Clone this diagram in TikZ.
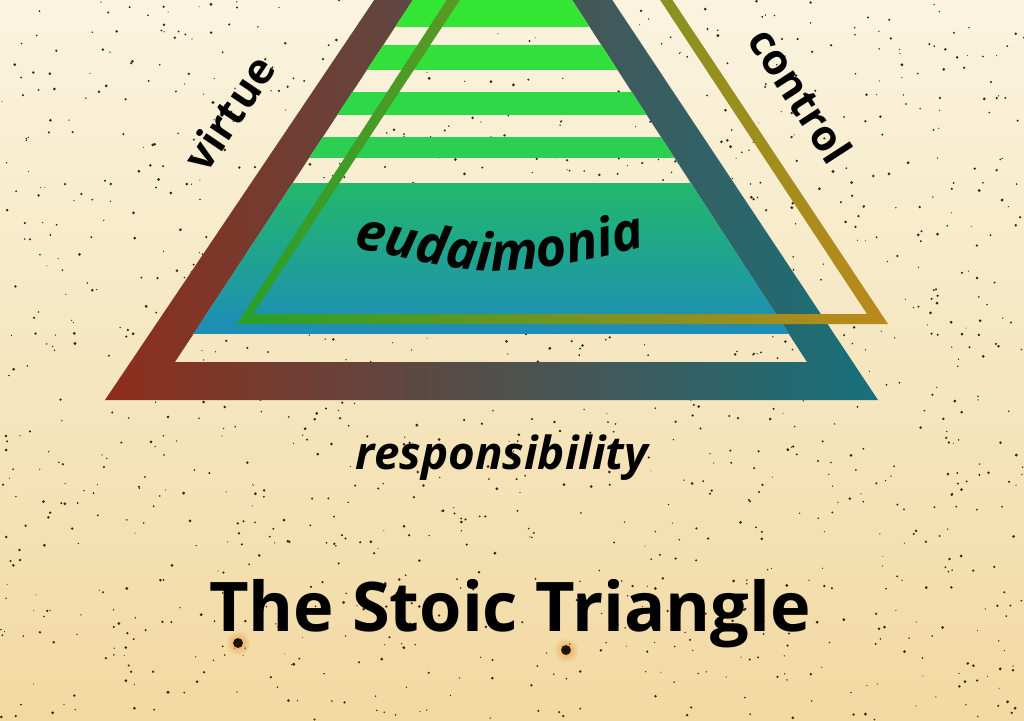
\documentclass[tikz,border=0pt]{standalone}
\usepackage{fontspec}
\setmainfont{Open Sans}
\usetikzlibrary{decorations.text}

\definecolor{bgtop}{HTML}{FAF4DF}
\definecolor{bgbot}{HTML}{F2D9A2}
\definecolor{rust}{HTML}{8E2D1B}
\definecolor{umber}{HTML}{543F3B}
\definecolor{petrol}{HTML}{16717C}
\definecolor{leaf}{HTML}{27A02A}
\definecolor{ochre}{HTML}{BC891B}
\definecolor{stripeA}{HTML}{33E633}
\definecolor{stripeB}{HTML}{31E03B}
\definecolor{stripeC}{HTML}{2ED846}
\definecolor{stripeD}{HTML}{2BCF52}
\definecolor{blockA}{HTML}{22B86A}
\definecolor{blockB}{HTML}{1D8DB8}

\newcommand{\eudfont}{\fontsize{30}{33}\selectfont\bfseries\itshape}

\tikzset{
    speck/.style={fill=black!70!brown},
    sidetext/.style={font=\fontsize{24}{27}\selectfont\bfseries, text=black, inner sep=0pt},
    bigtitle/.style={font=\fontsize{39}{42}\selectfont\bfseries, text=black, inner sep=0pt}
}

\begin{document}
\begin{tikzpicture}[x=0.02cm, y=-0.02cm]
    \useasboundingbox (0,0) rectangle (1024,720);
    \shade[top color=bgtop, bottom color=bgbot] (0,0) rectangle (1024,720);
    \pgfmathsetseed{11}
    \foreach \i in {1,...,1400}
    {
    \pgfmathsetmacro{\sx}{1024*rnd}
    \pgfmathsetmacro{\sy}{720*rnd}
    \pgfmathsetmacro{\sr}{0.3+0.6*rnd}
    \fill[speck] (\sx,\sy) circle (\sr pt);
    }
    \foreach \bx/\by in {238/643, 566/650}
    {
    \shade[inner color=orange!60!brown, outer color=bgbot, opacity=0.6] (\bx,\by) circle (7pt);
    \fill[black!85!brown] (\bx,\by) circle (2.8pt);
    }
    \shade[left color=rust, middle color=umber, right color=petrol, even odd rule]
        (105,400) -- (878,400) -- (494,-178) -- cycle
        (175,362) -- (807,362) -- (493,-122) -- cycle;
    \begin{scope}
    \clip (175,362) -- (807,362) -- (493,-122) -- cycle;
    \foreach \ya/\yb/\c in {-130/27/stripeA, 45/70/stripeB, 92/115/stripeC, 137/158/stripeD}
    {
    \fill[\c] (100,\ya) rectangle (900,\yb);
    }
    \shade[top color=blockA, bottom color=blockB] (100,183) rectangle (900,333);
    \end{scope}
    \shade[left color=leaf, right color=ochre, even odd rule]
        (237,324) -- (888,324) -- (558,-172) -- cycle
        (253,314) -- (867,314) -- (560,-152) -- cycle;
    \path[decorate, decoration={text along path, text align=center, text={|\eudfont|eudaimonia}}]
        (340,244) .. controls (500,280) .. (660,244);
    \node[sidetext, rotate=56] (virtue) at (229,113) {virtue};
    \node[sidetext, rotate=-57] (control) at (801,95) {control};
    \node[sidetext, font=\fontsize{26}{30}\selectfont\bfseries\itshape, anchor=base] (resp) at (502,469) {responsibility};
    \node[bigtitle, anchor=base] (title) at (510,631) {The Stoic Triangle};
\end{tikzpicture}
\end{document}
